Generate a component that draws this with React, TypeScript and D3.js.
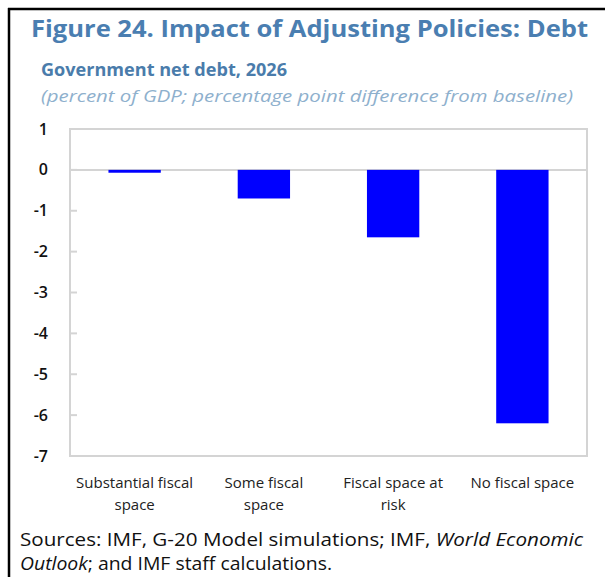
import React from "react";
import * as d3 from "d3";

const categories = [
  ["Substantial fiscal", "space"],
  ["Some fiscal", "space"],
  ["Fiscal space at", "risk"],
  ["No fiscal space"],
];
const values = [-0.07, -0.7, -1.65, -6.2];
const yTicks = [1, 0, -1, -2, -3, -4, -5, -6, -7];

const W = 605;
const H = 577;
const plot = { left: 70, right: 587, top: 129, bottom: 456 };
const FONT = "'Open Sans', 'Noto Sans', sans-serif";

export default function App() {
  const x = d3
    .scaleBand<number>()
    .domain(d3.range(categories.length))
    .range([plot.left, plot.right])
    .padding(0);
  const y = d3.scaleLinear().domain([-7, 1]).range([plot.bottom, plot.top]);
  const barW = x.bandwidth() * 0.405;

  return (
    <svg
      width={W}
      height={H}
      style={{ position: "absolute", left: 0, top: 0, background: "#fff" }}
    >
      {/* border */}
      <line x1={9} x2={9} y1={8} y2={H} stroke="#000" strokeWidth={2.5} />
      <line x1={8} x2={W} y1={9} y2={9} stroke="#000" strokeWidth={2.5} />

      <text
        x={31}
        y={37}
        fontFamily={FONT}
        fontWeight={700}
        fontSize={22.5}
        fill="#4a7eb1"
        textLength={557}
        lengthAdjust="spacingAndGlyphs"
      >
        Figure 24. Impact of Adjusting Policies: Debt
      </text>
      <text
        x={41}
        y={76}
        fontFamily={FONT}
        fontWeight={700}
        fontSize={17.5}
        fill="#4a7cab"
        textLength={246}
        lengthAdjust="spacingAndGlyphs"
      >
        Government net debt, 2026
      </text>
      <text
        x={41}
        y={102}
        fontFamily={FONT}
        fontStyle="italic"
        fontSize={15.5}
        fill="#8eb0cd"
        textLength={532}
        lengthAdjust="spacingAndGlyphs"
      >
        (percent of GDP; percentage point difference from baseline)
      </text>

      {/* plot frame */}
      <rect
        x={plot.left}
        y={plot.top}
        width={plot.right - plot.left}
        height={plot.bottom - plot.top}
        fill="none"
        stroke="#d4d4d4"
        strokeWidth={2}
      />
      {/* zero line */}
      <line
        x1={plot.left}
        x2={plot.right}
        y1={y(0)}
        y2={y(0)}
        stroke="#d4d4d4"
        strokeWidth={2}
      />
      {/* ticks */}
      {yTicks.map((t) => (
        <g key={t}>
          <line
            x1={plot.left}
            x2={plot.left + 7}
            y1={y(t)}
            y2={y(t)}
            stroke="#d4d4d4"
            strokeWidth={2}
          />
          <text
            x={48}
            y={y(t)}
            dy="0.35em"
            textAnchor="end"
            fontFamily={FONT}
            fontWeight={600}
            fontSize={16}
            fill="#111"
          >
            {t}
          </text>
        </g>
      ))}

      {/* bars */}
      {values.map((v, i) => {
        const cx = (x(i) as number) + x.bandwidth() / 2;
        const y0 = y(0);
        const y1 = y(v);
        return (
          <rect
            key={i}
            x={cx - barW / 2}
            y={Math.min(y0, y1)}
            width={barW}
            height={Math.max(Math.abs(y1 - y0), 1)}
            fill="#0000ff"
          />
        );
      })}

      {/* category labels */}
      {categories.map((lines, i) => {
        const cx = (x(i) as number) + x.bandwidth() / 2;
        return (
          <text
            key={i}
            textAnchor="middle"
            fontFamily={FONT}
            fontSize={15}
            fill="#222"
          >
            {lines.map((l, j) => (
              <tspan key={j} x={cx} y={488 + j * 22}>
                {l}
              </tspan>
            ))}
          </text>
        );
      })}

      {/* sources */}
      <text
        x={20}
        y={546}
        fontFamily={FONT}
        fontSize={17.5}
        fill="#111"
        textLength={563}
        lengthAdjust="spacingAndGlyphs"
      >
        Sources: IMF, G-20 Model simulations; IMF,{" "}
        <tspan fontStyle="italic">World Economic</tspan>
      </text>
      <text
        x={20}
        y={570}
        fontFamily={FONT}
        fontSize={17.5}
        fill="#111"
        textLength={312}
        lengthAdjust="spacingAndGlyphs"
      >
        <tspan fontStyle="italic">Outlook</tspan>; and IMF staff calculations.
      </text>
    </svg>
  );
}
